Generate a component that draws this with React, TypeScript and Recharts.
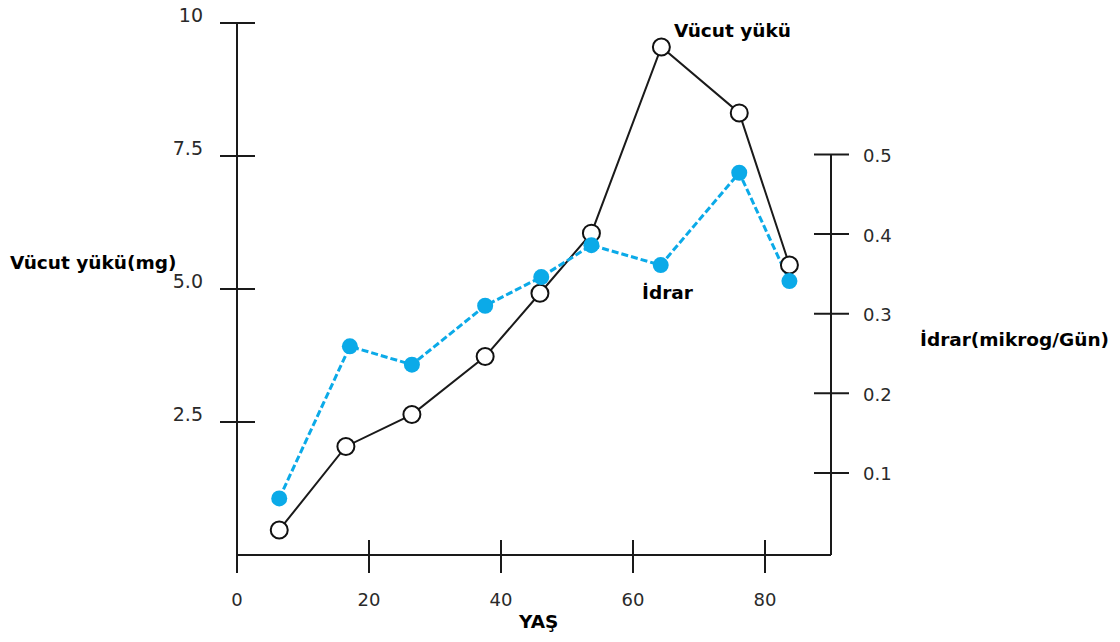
import { LineChart, Line, XAxis, YAxis, ReferenceLine } from "recharts";

// Vücut yükü (mg) – sol eksen
const ageBody = [6.4, 16.5, 26.5, 37.6, 45.9, 53.7, 64.3, 76.1, 83.7];
const bodyBurden = [0.47, 2.04, 2.64, 3.73, 4.92, 6.05, 9.55, 8.31, 5.45];

// İdrar (mikrog/Gün) – sağ eksen
const ageUrine = [6.4, 17.1, 26.5, 37.6, 46.1, 53.7, 64.2, 76.1, 83.7];
const urine = [0.068, 0.259, 0.236, 0.31, 0.346, 0.386, 0.361, 0.477, 0.341];

const xTicks = [0, 20, 40, 60, 80];
const leftTicks = [2.5, 5, 7.5, 10];
const leftTickLabels = ["2.5", "5.0", "7.5", "10"];
const rightTicks = [0.1, 0.2, 0.3, 0.4, 0.5];

const bodyData = ageBody.map((age, i) => ({ age, body: bodyBurden[i] }));
const urineData = ageUrine.map((age, i) => ({ age, urine: urine[i] }));

const AXIS = "#1a1a1a";
const BLUE = "#0BAAE8";
const TICK_FONT = "'DejaVu Sans', sans-serif";

const XTick = ({ x, y, payload }: any) => (
  <g>
    <line x1={x} x2={x} y1={y - 15} y2={y + 18} stroke={AXIS} strokeWidth={2} />
    <text x={x} y={y + 44} textAnchor="middle" dominantBaseline="central"
      fontFamily={TICK_FONT} fontSize={18} fill="#2a2a2a">
      {payload.value}
    </text>
  </g>
);

const LeftTick = ({ x, y, payload }: any) => {
  const idx = leftTicks.indexOf(payload.value);
  return (
    <g>
      <line x1={x - 17} x2={x + 18} y1={y} y2={y} stroke={AXIS} strokeWidth={2} />
      <text x={x - 34} y={y - 8} textAnchor="end" dominantBaseline="central"
        fontFamily={TICK_FONT} fontSize={19} fill="#2a2a2a">
        {leftTickLabels[idx]}
      </text>
    </g>
  );
};

const RightTick = ({ x, y, payload }: any) => (
  <g>
    <line x1={x - 17} x2={x + 18} y1={y} y2={y} stroke={AXIS} strokeWidth={2} />
    <text x={x + 32} y={y + 1} textAnchor="start" dominantBaseline="central"
      fontFamily={TICK_FONT} fontSize={18} fill="#2a2a2a">
      {payload.value.toFixed(1)}
    </text>
  </g>
);

const labelStyle = (left: number, top: number): React.CSSProperties => ({
  position: "absolute",
  left,
  top,
  fontFamily: "'DejaVu Sans', sans-serif",
  fontWeight: "bold",
  fontSize: 18.5,
  lineHeight: "18px",
  color: "#000",
  whiteSpace: "nowrap",
});

export default function App() {
  return (
    <div style={{ position: "absolute", left: 0, top: 0, width: 1120, height: 642, background: "#fff" }}>
      <LineChart
        width={1120}
        height={642}
        margin={{ top: 23, right: 259, bottom: 57, left: 207 }}
      >
        <XAxis
          dataKey="age"
          type="number"
          domain={[0, 90]}
          ticks={xTicks}
          height={30}
          axisLine={{ stroke: AXIS, strokeWidth: 2 }}
          tickLine={false}
          tickSize={0}
          tickMargin={0}
          tick={<XTick />}
          allowDuplicatedCategory={false}
        />
        <YAxis
          yAxisId="left"
          domain={[0, 10]}
          ticks={leftTicks}
          width={30}
          axisLine={{ stroke: AXIS, strokeWidth: 2 }}
          tickLine={false}
          tickSize={0}
          tickMargin={0}
          tick={<LeftTick />}
        />
        <YAxis
          yAxisId="right"
          orientation="right"
          domain={[-0.003, 0.665]}
          ticks={rightTicks}
          width={30}
          axisLine={false}
          tickLine={false}
          tickSize={0}
          tickMargin={0}
          tick={<RightTick />}
        />
        <ReferenceLine
          yAxisId="right"
          segment={[{ x: 90, y: -0.003 }, { x: 90, y: 0.5 }]}
          stroke={AXIS}
          strokeWidth={2}
          ifOverflow="visible"
        />
        <Line
          yAxisId="left"
          data={bodyData}
          dataKey="body"
          type="linear"
          stroke="#1a1a1a"
          strokeWidth={2}
          dot={{ r: 8.5, fill: "#fff", stroke: "#111", strokeWidth: 2 }}
          activeDot={false}
          isAnimationActive={false}
        />
        <Line
          yAxisId="right"
          data={urineData}
          dataKey="urine"
          type="linear"
          stroke={BLUE}
          strokeWidth={3}
          strokeDasharray="7 3"
          dot={{ r: 8, fill: BLUE, stroke: "none" }}
          activeDot={false}
          isAnimationActive={false}
        />
      </LineChart>
      <div style={labelStyle(10, 254)}>Vücut yükü(mg)</div>
      <div style={labelStyle(920, 331)}>İdrar(mikrog/Gün)</div>
      <div style={labelStyle(674, 22)}>Vücut yükü</div>
      <div style={labelStyle(642, 284)}>İdrar</div>
      <div style={labelStyle(519, 613)}>YAŞ</div>
    </div>
  );
}
